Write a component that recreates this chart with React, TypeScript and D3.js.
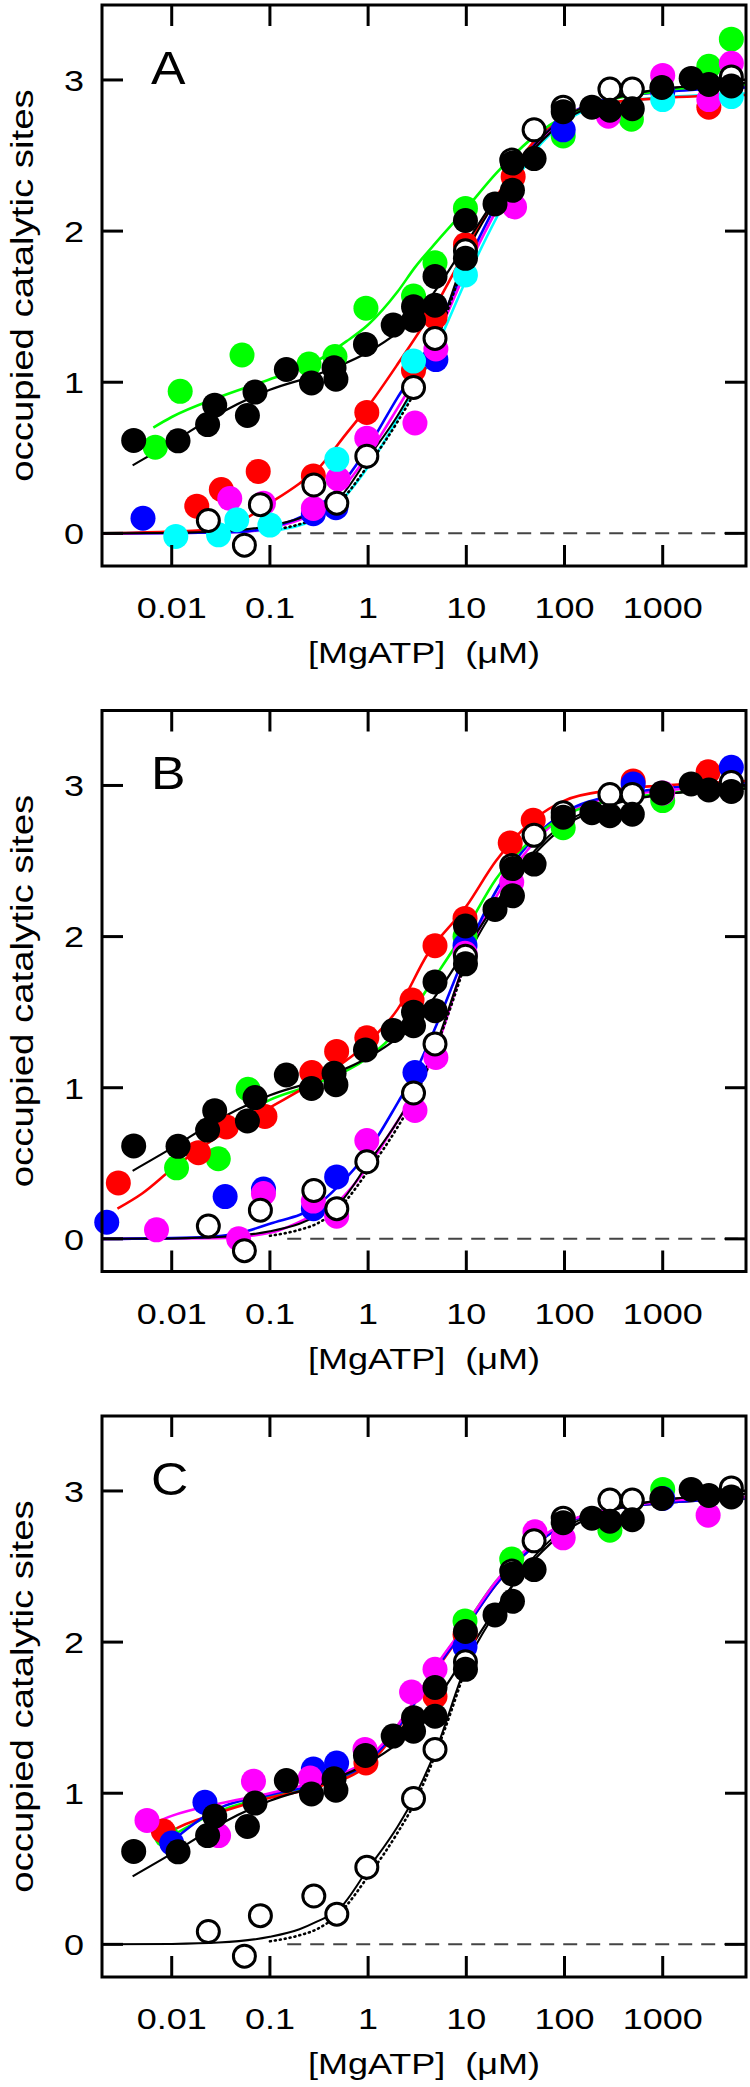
import React from "react";
import * as d3 from "d3";

type P = [number, number];

// ---------- axis content ----------
const xTickValues = [0.01, 0.1, 1, 10, 100, 1000];
const xTickLabels = ["0.01", "0.1", "1", "10", "100", "1000"];
const yTickValues = [0, 1, 2, 3];
const yTickLabels = ["0", "1", "2", "3"];
const panelLetters = ["A", "B", "C"];
const xTitle = "[MgATP]\u00a0 (\u03bcM)";
const yTitle = "occupied catalytic sites";

// ---------- reference data (same in all panels) ----------
const wtFilled: P[] = [
  [0.0041, 0.615], [0.0116, 0.612], [0.0232, 0.72], [0.0274, 0.848], [0.059, 0.78],
  [0.0705, 0.935], [0.147, 1.084], [0.265, 0.995], [0.45, 1.095], [0.47, 1.02],
  [0.94, 1.25], [1.8, 1.378], [2.9, 1.41], [2.9, 1.5], [4.8, 1.51], [4.8, 1.7],
  [9.8, 1.82], [9.8, 2.07], [19.6, 2.18], [29.5, 2.27], [29.5, 2.45], [49, 2.48],
  [97, 2.79], [190, 2.82], [290, 2.8], [490, 2.81], [980, 2.95], [1950, 3.01],
  [2950, 2.97], [5000, 2.96],
];
const wtOpen: P[] = [
  [0.0236, 0.085], [0.055, -0.078], [0.08, 0.19], [0.28, 0.32], [0.48, 0.2],
  [0.97, 0.51], [2.9, 0.965], [4.8, 1.29], [9.8, 1.87], [29, 2.47], [49, 2.67],
  [97, 2.82], [290, 2.94], [490, 2.94], [5000, 3.02],
];
const wtFilledFit: P[] = [
  [0.004, 0.45], [0.01, 0.6], [0.03, 0.79], [0.1, 0.95], [0.3, 1.05], [1, 1.2],
  [2, 1.33], [3, 1.43], [5, 1.62], [10, 1.92], [20, 2.22], [30, 2.38], [50, 2.55],
  [100, 2.73], [300, 2.87], [1000, 2.94], [7050, 2.98],
];
const wtOpenFit: P[] = [
  [0.00195, 0], [0.01, 0.003], [0.03, 0.012], [0.1, 0.05], [0.2, 0.1], [0.3, 0.15],
  [0.5, 0.23], [1, 0.5], [2, 0.78], [3, 0.98], [5, 1.3], [10, 1.85], [20, 2.2],
  [30, 2.38], [50, 2.57], [100, 2.75], [300, 2.88], [1000, 2.94], [7050, 2.98],
];
const wtOpenDotted: P[] = [
  [0.1, 0.02], [0.2, 0.06], [0.3, 0.1], [0.5, 0.2], [1, 0.45], [2, 0.74], [3, 0.94],
  [5, 1.28], [10, 1.84],
];

// ---------- panel A ----------
const aGreen: P[] = [
  [0.0068, 0.57], [0.0122, 0.94], [0.052, 1.18], [0.25, 1.12], [0.46, 1.17],
  [0.95, 1.49], [2.9, 1.57], [4.8, 1.79], [9.8, 2.15], [97, 2.63], [480, 2.74],
  [2950, 3.09], [5000, 3.27],
];
const aRed: P[] = [
  [0.018, 0.18], [0.032, 0.29], [0.076, 0.41], [0.277, 0.38], [0.97, 0.8],
  [2.9, 1.08], [4.8, 1.43], [9.8, 1.91], [30, 2.36], [2950, 2.82],
];
const aBlue: P[] = [
  [0.0051, 0.1], [0.277, 0.13], [0.47, 0.17], [4.9, 1.15], [97, 2.67], [1000, 2.92],
];
const aMagenta: P[] = [
  [0.039, 0.23], [0.086, 0.2], [0.277, 0.165], [0.495, 0.36], [0.97, 0.63],
  [3.0, 0.73], [4.9, 1.22], [31, 2.16], [280, 2.76], [1000, 3.03], [2950, 2.87],
  [5000, 3.11],
];
const aCyan: P[] = [
  [0.011, -0.02], [0.03, -0.01], [0.046, 0.09], [0.1, 0.055], [0.48, 0.49],
  [2.9, 1.14], [9.8, 1.71], [1000, 2.87], [5000, 2.89],
];
const aGreenFit: P[] = [
  [0.0065, 0.7], [0.01, 0.77], [0.03, 0.9], [0.1, 1.02], [0.3, 1.14], [0.6, 1.27],
  [1, 1.38], [2, 1.6], [3, 1.76], [5, 1.93], [10, 2.15], [20, 2.38], [50, 2.63],
  [100, 2.76], [300, 2.87], [1000, 2.93], [7050, 2.97],
];
const aRedFit: P[] = [
  [0.00195, 0], [0.02, 0.02], [0.05, 0.08], [0.1, 0.2], [0.2, 0.33], [0.3, 0.42],
  [0.6, 0.66], [1, 0.84], [2, 1.12], [5, 1.52], [10, 1.88], [20, 2.22], [50, 2.6],
  [100, 2.76], [300, 2.85], [1000, 2.88], [7050, 2.9],
];
const aBlueFit: P[] = [
  [0.00195, 0], [0.05, 0.01], [0.1, 0.04], [0.3, 0.17], [0.5, 0.3], [1, 0.57],
  [2, 0.9], [3, 1.08], [5, 1.35], [10, 1.78], [20, 2.17], [50, 2.58], [100, 2.75],
  [300, 2.88], [7050, 2.95],
];
const aMagentaFit: P[] = [
  [0.00195, 0], [0.05, 0.01], [0.1, 0.035], [0.3, 0.15], [0.5, 0.27], [1, 0.52],
  [2, 0.83], [3, 1.02], [5, 1.3], [10, 1.74], [20, 2.13], [50, 2.56], [100, 2.75],
  [300, 2.88], [7050, 2.96],
];
const aCyanFit: P[] = [
  [0.00195, 0], [0.1, 0.02], [0.3, 0.1], [0.5, 0.2], [1, 0.44], [2, 0.76], [3, 0.97],
  [5, 1.24], [10, 1.68], [20, 2.08], [50, 2.53], [100, 2.72], [300, 2.85], [7050, 2.91],
];

// ---------- panel B ----------
const bRed: P[] = [
  [0.00286, 0.37], [0.0187, 0.57], [0.036, 0.74], [0.089, 0.81], [0.267, 1.1],
  [0.478, 1.24], [0.97, 1.33], [2.8, 1.58], [4.8, 1.94], [9.7, 2.12], [28, 2.62],
  [48, 2.77], [500, 3.03], [2900, 3.09],
];
const bGreen: P[] = [
  [0.0112, 0.47], [0.0298, 0.53], [0.06, 0.99], [9.7, 2.0], [97, 2.72], [1000, 2.9],
];
const bBlue: P[] = [
  [0.00218, 0.11], [0.035, 0.28], [0.086, 0.33], [0.277, 0.2], [0.478, 0.41],
  [3.0, 1.1], [9.7, 1.94], [500, 3.01], [5000, 3.12],
];
const bMagenta: P[] = [
  [0.007, 0.06], [0.048, 0.0], [0.086, 0.3], [0.277, 0.25], [0.478, 0.15],
  [0.97, 0.65], [3.0, 0.85], [4.9, 1.2], [9.7, 1.89], [29, 2.36], [1000, 2.95],
];
const bRedFit: P[] = [
  [0.0028, 0.2], [0.005, 0.3], [0.01, 0.46], [0.03, 0.68], [0.1, 0.87], [0.3, 1.05],
  [1, 1.3], [2, 1.52], [4, 1.88], [10, 2.2], [20, 2.5], [50, 2.78], [100, 2.9],
  [300, 2.97], [1000, 3.0], [7050, 3.03],
];
const bGreenFit: P[] = [
  [0.01, 0.5], [0.03, 0.72], [0.1, 0.92], [0.3, 1.03], [1, 1.2], [2, 1.38], [5, 1.75],
  [10, 2.05], [20, 2.38], [50, 2.66], [100, 2.8], [300, 2.9], [7050, 2.98],
];
const bBlueFit: P[] = [
  [0.00195, 0], [0.02, 0.01], [0.05, 0.04], [0.1, 0.1], [0.3, 0.22], [0.5, 0.35],
  [1, 0.58], [2, 0.9], [3, 1.1], [5, 1.42], [10, 1.9], [20, 2.3], [50, 2.66],
  [100, 2.82], [300, 2.93], [7050, 3.02],
];
const bMagentaFit: P[] = [
  [0.00195, 0], [0.03, 0.005], [0.1, 0.04], [0.3, 0.17], [0.5, 0.25], [1, 0.48],
  [2, 0.78], [3, 0.96], [5, 1.27], [10, 1.86], [20, 2.26], [50, 2.63], [100, 2.8],
  [300, 2.92], [7050, 3.0],
];

// ---------- panel C ----------
const cMagenta: P[] = [
  [0.0056, 0.82], [0.03, 0.72], [0.068, 1.08], [0.257, 1.1], [0.93, 1.29],
  [2.77, 1.67], [4.8, 1.82], [50, 2.73], [97, 2.69], [2900, 2.84],
];
const cRed: P[] = [[0.0082, 0.75], [0.95, 1.2], [4.8, 1.64], [9.7, 2.05]];
const cBlue: P[] = [
  [0.01, 0.67], [0.0218, 0.94], [0.277, 1.16], [0.478, 1.2], [9.7, 1.97], [1000, 2.95],
];
const cGreen: P[] = [[0.0088, 0.72], [9.7, 2.14], [29, 2.55], [290, 2.74], [1000, 3.01]];
const cMagentaFit: P[] = [
  [0.0065, 0.8], [0.01, 0.85], [0.03, 0.93], [0.1, 1.0], [0.3, 1.08], [1, 1.23],
  [2, 1.45], [3, 1.62], [5, 1.85], [10, 2.12], [20, 2.4], [50, 2.66], [100, 2.79],
  [300, 2.88], [1000, 2.93], [7050, 2.96],
];
const cRedFit: P[] = [
  [0.0085, 0.72], [0.01, 0.75], [0.03, 0.87], [0.1, 0.97], [0.3, 1.04], [1, 1.19],
  [2, 1.42], [3, 1.6], [5, 1.82], [10, 2.1], [20, 2.38], [50, 2.64], [100, 2.78],
  [300, 2.88], [7050, 2.95],
];
const cGreenFit: P[] = [
  [0.009, 0.7], [0.03, 0.88], [0.1, 0.98], [0.3, 1.05], [1, 1.2], [2, 1.43], [3, 1.61],
  [5, 1.84], [10, 2.12], [20, 2.4], [50, 2.65], [100, 2.78], [300, 2.88], [7050, 2.95],
];
const cBlueFit: P[] = [
  [0.0095, 0.67], [0.03, 0.9], [0.1, 0.99], [0.3, 1.06], [1, 1.21], [2, 1.43], [3, 1.6],
  [5, 1.83], [10, 2.1], [20, 2.38], [50, 2.64], [100, 2.78], [300, 2.88], [7050, 2.95],
];

// ---------- styling / layout ----------
const GREEN = "#00ff00";
const RED = "#ff0000";
const BLUE = "#0000ff";
const MAGENTA = "#ff00ff";
const CYAN = "#00ffff";
const FONT = "'Liberation Sans', Arial, Helvetica, sans-serif";

const W = 750;
const H = 2087;
const LEFT = 102;
const RIGHT = 746;
const PH = 561;
const TOPS = [5, 710.5, 1416];
const X_DOMAIN: [number, number] = [0.00195, 7050];
const Y_DOMAIN: [number, number] = [-0.216, 3.496];

type Series = { color: string; pts: P[] };
type Fit = { color: string; pts: P[] };

const panels: { colored: Series[]; fits: Fit[] }[] = [
  {
    colored: [
      { color: GREEN, pts: aGreen },
      { color: RED, pts: aRed },
      { color: BLUE, pts: aBlue },
      { color: MAGENTA, pts: aMagenta },
      { color: CYAN, pts: aCyan },
    ],
    fits: [
      { color: CYAN, pts: aCyanFit },
      { color: MAGENTA, pts: aMagentaFit },
      { color: BLUE, pts: aBlueFit },
      { color: RED, pts: aRedFit },
      { color: GREEN, pts: aGreenFit },
    ],
  },
  {
    colored: [
      { color: GREEN, pts: bGreen },
      { color: RED, pts: bRed },
      { color: BLUE, pts: bBlue },
      { color: MAGENTA, pts: bMagenta },
    ],
    fits: [
      { color: MAGENTA, pts: bMagentaFit },
      { color: BLUE, pts: bBlueFit },
      { color: GREEN, pts: bGreenFit },
      { color: RED, pts: bRedFit },
    ],
  },
  {
    colored: [
      { color: GREEN, pts: cGreen },
      { color: RED, pts: cRed },
      { color: BLUE, pts: cBlue },
      { color: MAGENTA, pts: cMagenta },
    ],
    fits: [
      { color: GREEN, pts: cGreenFit },
      { color: RED, pts: cRedFit },
      { color: BLUE, pts: cBlueFit },
      { color: MAGENTA, pts: cMagentaFit },
    ],
  },
];

function Panel({ idx }: { idx: number }) {
  const top = TOPS[idx];
  const bottom = top + PH;
  const cfg = panels[idx];
  const x = d3.scaleLog().domain(X_DOMAIN).range([LEFT, RIGHT]);
  const y = d3.scaleLinear().domain(Y_DOMAIN).range([bottom, top]);
  const line = d3
    .line<P>()
    .x((d) => x(d[0]))
    .y((d) => y(d[1]))
    .curve(d3.curveMonotoneX);
  const clipId = `clip${idx}`;
  const tickLen = 21;
  const sx = 1.2;

  return (
    <g>
      <defs>
        <clipPath id={clipId}>
          <rect x={LEFT} y={top} width={RIGHT - LEFT} height={PH} />
        </clipPath>
      </defs>

      {/* zero reference line */}
      <line
        x1={x(0.15)}
        x2={RIGHT}
        y1={y(0)}
        y2={y(0)}
        stroke="#444"
        strokeWidth={2}
        strokeDasharray="14 9"
      />

      <g clipPath={`url(#${clipId})`} fill="none">
        {cfg.fits.map((f, i) => (
          <path key={i} d={line(f.pts) || ""} stroke={f.color} strokeWidth={2.6} />
        ))}
        <path d={line(wtOpenDotted) || ""} stroke="#000" strokeWidth={2.6} strokeDasharray="1 4" strokeLinecap="round" />
        <path d={line(wtOpenFit) || ""} stroke="#000" strokeWidth={2} />
        <path d={line(wtFilledFit) || ""} stroke="#000" strokeWidth={2.2} />
      </g>

      {cfg.colored.map((s, i) => (
        <g key={i}>
          {s.pts.map((p, j) => (
            <circle key={j} cx={x(p[0])} cy={y(p[1])} r={12.5} fill={s.color} />
          ))}
        </g>
      ))}
      {wtOpen.map((p, j) => (
        <circle key={j} cx={x(p[0])} cy={y(p[1])} r={11} fill="#fff" stroke="#000" strokeWidth={3} />
      ))}
      {wtFilled.map((p, j) => (
        <circle key={j} cx={x(p[0])} cy={y(p[1])} r={12.5} fill="#000" />
      ))}

      {/* frame */}
      <rect x={LEFT} y={top} width={RIGHT - LEFT} height={PH} fill="none" stroke="#000" strokeWidth={3} />

      {/* x ticks, inside top & bottom */}
      {xTickValues.map((v, i) => (
        <g key={i} stroke="#000" strokeWidth={3}>
          <line x1={x(v)} x2={x(v)} y1={bottom} y2={bottom - tickLen} />
          <line x1={x(v)} x2={x(v)} y1={top} y2={top + tickLen} />
        </g>
      ))}
      {/* y ticks, inside left & right */}
      {yTickValues.map((v, i) => (
        <g key={i} stroke="#000" strokeWidth={3}>
          <line x1={LEFT} x2={LEFT + tickLen} y1={y(v)} y2={y(v)} />
          <line x1={RIGHT} x2={RIGHT - tickLen} y1={y(v)} y2={y(v)} />
        </g>
      ))}

      <g fontFamily={FONT} fill="#000">
        {xTickValues.map((v, i) => (
          <text
            key={i}
            transform={`translate(${x(v)},${bottom + 52}) scale(${sx},1)`}
            textAnchor="middle"
            fontSize={30}
          >
            {xTickLabels[i]}
          </text>
        ))}
        {yTickValues.map((v, i) => (
          <text
            key={i}
            transform={`translate(${LEFT - 18},${y(v)}) scale(${sx},1)`}
            textAnchor="end"
            dy="0.36em"
            fontSize={30}
          >
            {yTickLabels[i]}
          </text>
        ))}
        <text
          transform={`translate(${(LEFT + RIGHT) / 2},${bottom + 97}) scale(1.2,1)`}
          textAnchor="middle"
          fontSize={30}
        >
          {xTitle}
        </text>
        <text
          transform={`translate(33,${top + PH / 2}) rotate(-90) scale(1.2,1)`}
          textAnchor="middle"
          fontSize={32}
        >
          {yTitle}
        </text>
        <text transform={`translate(${LEFT + 49},${top + 78.5}) scale(1.1,1)`} fontSize={47}>
          {panelLetters[idx]}
        </text>
      </g>
    </g>
  );
}

export default function App() {
  return (
    <svg
      width={W}
      height={H}
      viewBox={`0 0 ${W} ${H}`}
      style={{ position: "absolute", left: 0, top: 0, background: "#fff" }}
    >
      <rect x={0} y={0} width={W} height={H} fill="#fff" />
      {[0, 1, 2].map((i) => (
        <Panel key={i} idx={i} />
      ))}
    </svg>
  );
}
